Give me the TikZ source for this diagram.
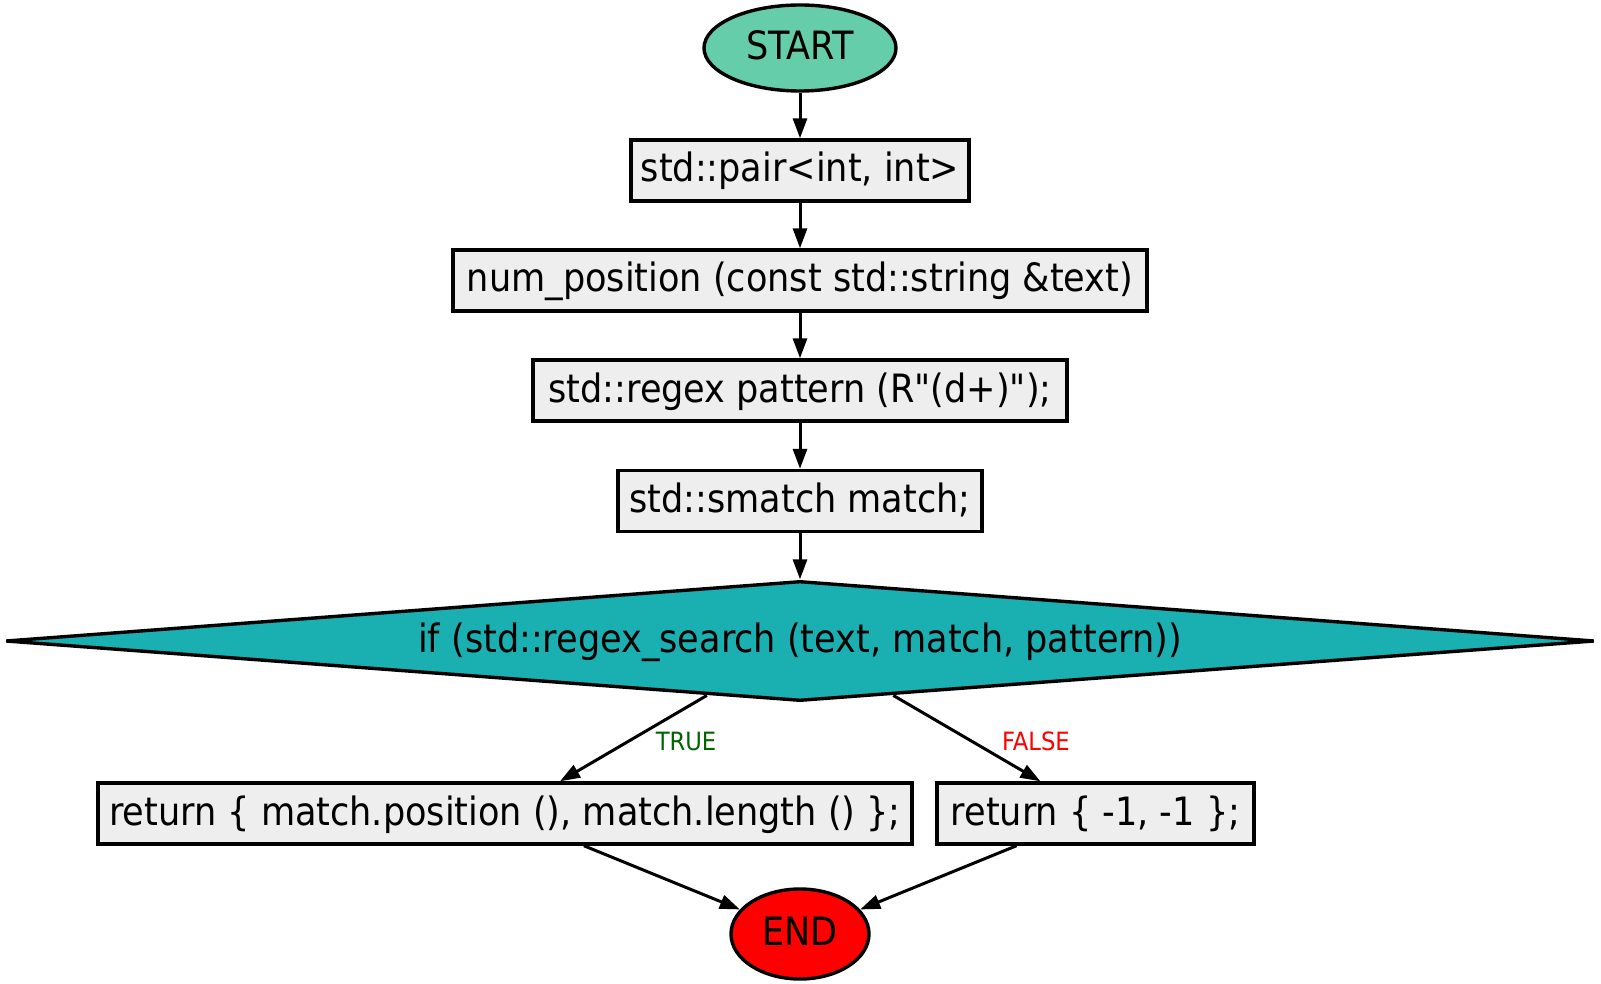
\documentclass[tikz,border=0pt]{standalone}
\usepackage{fontspec}
\setmainfont{DejaVu Sans Condensed}
\usetikzlibrary{shapes.geometric,arrows.meta}
\definecolor{startc}{HTML}{66CDAA}
\definecolor{decc}{HTML}{1AAFB0}
\definecolor{boxc}{HTML}{EEEEEE}
\definecolor{truec}{HTML}{006400}
\begin{document}
\begin{tikzpicture}[x=0.5pt,y=-0.5pt,
  mainfont/.style={font=\fontsize{19.5}{23}\selectfont, text height=16.4pt, text depth=4.9pt},
  proc/.style={rectangle, draw, line width=1.7pt, fill=boxc, inner sep=0pt, minimum height=30.5pt, mainfont},
  term/.style={ellipse, draw, line width=1.7pt, inner sep=0pt, mainfont},
  decision/.style={diamond, draw, line width=1.7pt, fill=decc, shape aspect=13.2, inner sep=0pt, mainfont},
  lbl/.style={font=\fontsize{12.6}{15}\selectfont, inner sep=0pt},
  arr/.style={-{Triangle[length=10pt,width=7pt]}, line width=1.5pt}]
\useasboundingbox (0,0) rectangle (1601,984);
\node[term, fill=startc, minimum width=96pt, minimum height=43pt] (start) at (800,48) {START};
\node[proc, minimum width=169pt] (b1) at (800,170.5) {std::pair<int, int>};
\node[proc, minimum width=347pt] (b2) at (800,280.5) {num\_position (const std::string \&text)};
\node[proc, minimum width=267pt] (b3) at (800,390.5) {std::regex pattern (R\textquotedbl(d+)\textquotedbl);};
\node[proc, minimum width=182pt] (b4) at (800,501) {std::smatch match;};
\node[decision, minimum width=794.5pt, minimum height=60pt] (d) at (800,641) {if (std::regex\_search (text, match, pattern))};
\node[proc, minimum width=407pt] (b5) at (505,813.5) {return \{ match.position (), match.length () \};};
\node[proc, minimum width=158.5pt] (b6) at (1095.5,813.5) {return \{ -1, -1 \};};
\node[term, fill=red, minimum width=69pt, minimum height=45pt] (end) at (800,934) {END};
\node[lbl, text=truec] (ltrue) at (686,741) {TRUE};
\node[lbl, text=red] (lfalse) at (1036,741) {FALSE};
\draw[arr] (start) -- (b1);
\draw[arr] (b1) -- (b2);
\draw[arr] (b2) -- (b3);
\draw[arr] (b3) -- (b4);
\draw[arr] (b4) -- (d);
\draw[arr] (d) -- (b5);
\draw[arr] (d) -- (b6);
\draw[arr] (b5) -- (end);
\draw[arr] (b6) -- (end);
\end{tikzpicture}
\end{document}
